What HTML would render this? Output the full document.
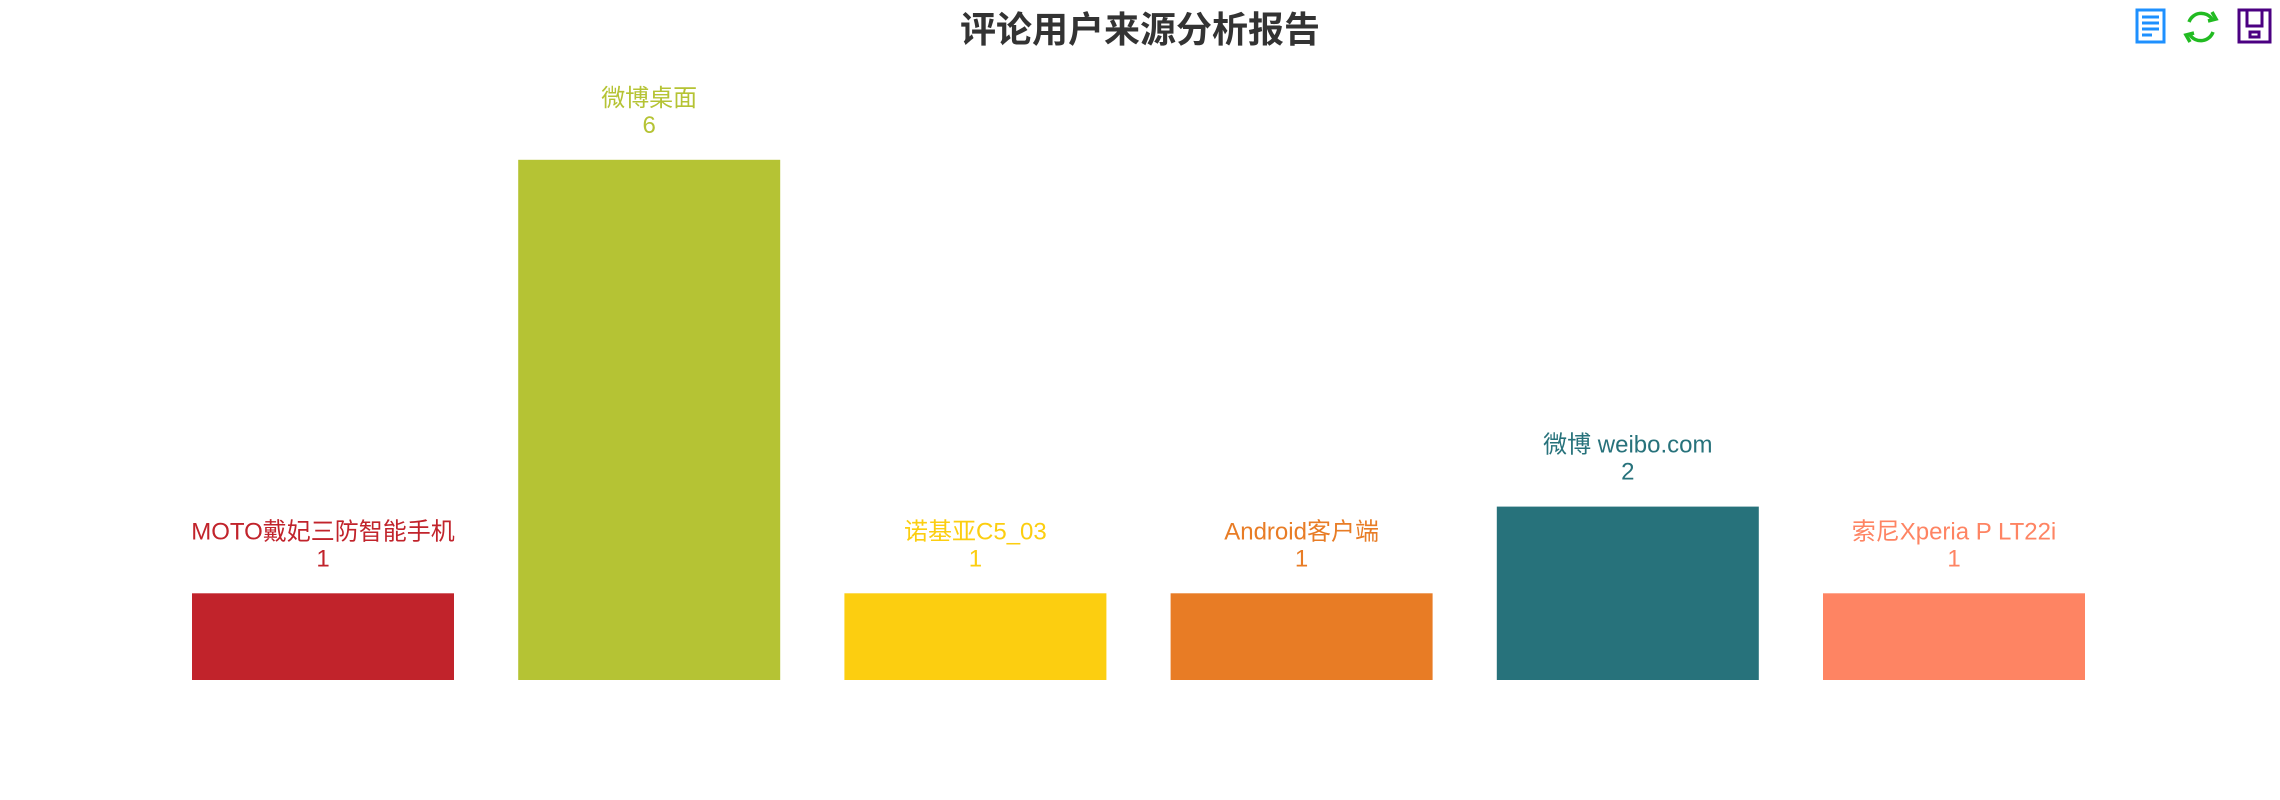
<!DOCTYPE html>
<html><head><meta charset="utf-8"><style>
html,body{margin:0;padding:0;background:#fff;width:2280px;height:800px;overflow:hidden}
svg{display:block}
text{font-family:"Liberation Sans","Noto Sans CJK SC",sans-serif}
</style></head><body>
<svg id="chart" width="2280" height="800">
<text x="1140" y="42" text-anchor="middle" font-size="36" font-weight="bold" fill="#333">评论用户来源分析报告</text>
<g>
<g stroke="#1e90ff" stroke-width="3" fill="none">
<rect x="2137" y="10" width="27" height="32"/>
<line x1="2142" y1="17" x2="2159" y2="17"/><line x1="2142" y1="23" x2="2159" y2="23"/><line x1="2142" y1="29" x2="2159" y2="29"/><line x1="2142" y1="35" x2="2152" y2="35"/>
</g>
<g stroke="#22bb22" stroke-width="3.5" fill="none">
<path d="M2212 19 A13 13 0 0 0 2189 22"/><path d="M2190 35 A13 13 0 0 0 2213 32"/>
<path d="M2212 12 L2216 19 L2208 21"/><path d="M2190 42 L2186 35 L2194 33"/>
</g>
<g stroke="#4b0082" stroke-width="3" fill="none">
<rect x="2239" y="10" width="31" height="32"/><path d="M2247 10 V26 H2262 V10"/><rect x="2250" y="32" width="9" height="5"/>
</g>
</g>
<g id="bars"></g>
</svg>
<script>
const categories=["MOTO戴妃三防智能手机","微博桌面","诺基亚C5_03","Android客户端","微博 weibo.com","索尼Xperia P LT22i"];
const values=[1,6,1,1,2,1];
const colors=["#C1232B","#B5C334","#FCCE10","#E87C25","#27727B","#FE8463"];
const x0=192,step=326.2,bw=262,base=680,unit=86.7;
function xPos(i){return x0+i*step;}
function yPos(v){return base-v*unit;}
const g=document.getElementById('bars');
const ns="http://www.w3.org/2000/svg";
categories.forEach((c,i)=>{
 const r=document.createElementNS(ns,'rect');
 
 
 r.setAttribute('x',xPos(i));r.setAttribute('y',yPos(values[i]));
 r.setAttribute('width',bw);r.setAttribute('height',base-yPos(values[i]));
 r.setAttribute('fill',colors[i]);g.appendChild(r);
 const t1=document.createElementNS(ns,'text');
 
 
 t1.setAttribute('x',xPos(i)+bw/2);t1.setAttribute('y',yPos(values[i])-54);
 t1.setAttribute('text-anchor','middle');t1.setAttribute('font-size','24');t1.setAttribute('fill',colors[i]);
 t1.textContent=c;g.appendChild(t1);
 const t2=document.createElementNS(ns,'text');
 
 
 t2.setAttribute('x',xPos(i)+bw/2);t2.setAttribute('y',yPos(values[i])-27);
 t2.setAttribute('text-anchor','middle');t2.setAttribute('font-size','24');t2.setAttribute('fill',colors[i]);
 t2.textContent=values[i];g.appendChild(t2);
});
</script>
</body></html>
